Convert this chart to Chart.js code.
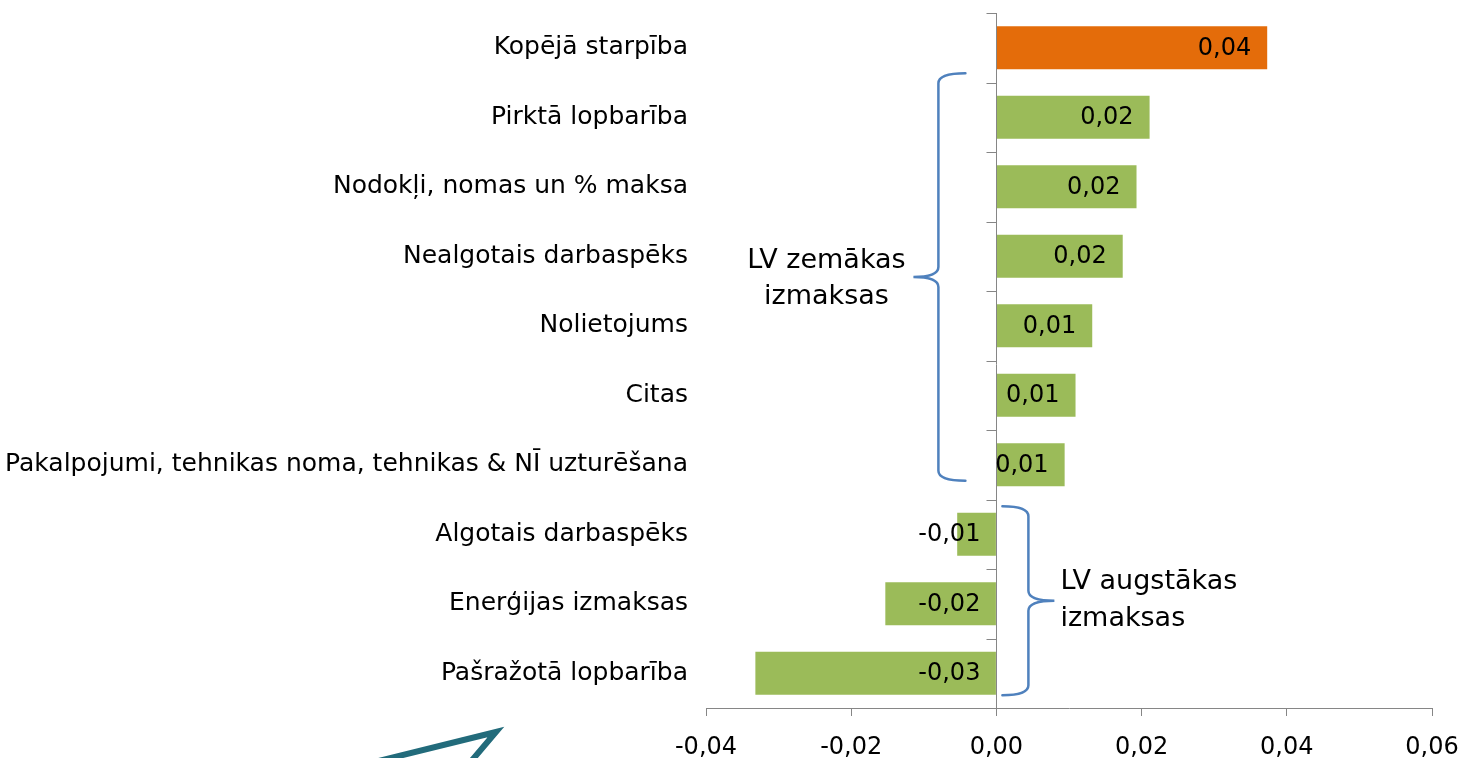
<!DOCTYPE html>
<html>
<head>
<meta charset="utf-8">
<script src="https://cdn.jsdelivr.net/npm/chart.js@4"></script>
<style>
  html,body{margin:0;padding:0;background:#fff;}
  #wrap{width:1462px;height:758px;position:relative;}
</style>
</head>
<body>
<div id="wrap"><canvas id="chart"></canvas></div>
<script>
/* ===== Data ===== */
const categories = [
  'Kopējā starpība',
  'Pirktā lopbarība',
  'Nodokļi, nomas un % maksa',
  'Nealgotais darbaspēks',
  'Nolietojums',
  'Citas',
  'Pakalpojumi, tehnikas noma, tehnikas & NĪ uzturēšana',
  'Algotais darbaspēks',
  'Enerģijas izmaksas',
  'Pašražotā lopbarība'
];
const values = [0.0373, 0.0211, 0.0193, 0.0174, 0.0132, 0.0109, 0.0094, -0.0054, -0.0153, -0.0332];
const barColors = ['#E46C0A','#9BBB59','#9BBB59','#9BBB59','#9BBB59','#9BBB59','#9BBB59','#9BBB59','#9BBB59','#9BBB59'];
const xMin = -0.04, xMax = 0.06, xStep = 0.02;
const braceLow = {from:1, to:6, lines:['LV zemākas','izmaksas']};
const braceHigh = {from:7, to:9, lines:['LV augstākas','izmaksas']};

const FONT = '"DejaVu Sans", sans-serif';
const AXIS = '#868686';
const fmt = v => v.toFixed(2).replace('.', ',');

/* ===== Plugins ===== */
// zero axis line + tick marks between categories
const zeroAxis = {
  id:'zeroAxis',
  afterDatasetsDraw(chart){
    const {ctx, scales:{x,y}} = chart;
    const x0 = Math.round(x.getPixelForValue(0)) + 0.5;
    const half = (y.getPixelForValue(1) - y.getPixelForValue(0)) / 2;
    ctx.save();
    ctx.strokeStyle = AXIS; ctx.lineWidth = 1;
    ctx.beginPath();
    ctx.moveTo(x0, chart.chartArea.top); ctx.lineTo(x0, chart.chartArea.bottom + 8);
    for(let i=0;i<=categories.length;i++){
      const yy = Math.round(y.getPixelForValue(i) - half) + 0.5;
      ctx.moveTo(x0 - 10, yy); ctx.lineTo(x0, yy);
    }
    ctx.stroke();
    ctx.restore();
  }
};

// value labels
const valueLabels = {
  id:'valueLabels',
  afterDatasetsDraw(chart){
    const {ctx, scales:{x}} = chart;
    const x0 = x.getPixelForValue(0);
    const meta = chart.getDatasetMeta(0);
    ctx.save();
    ctx.font = '24px ' + FONT;
    ctx.fillStyle = '#000';
    ctx.textAlign = 'right';
    ctx.textBaseline = 'middle';
    meta.data.forEach((bar,i)=>{
      const v = values[i];
      const px = v >= 0 ? bar.x - 16 : x0 - 16;
      ctx.fillText(fmt(v), px, bar.y + 1);
    });
    ctx.restore();
  }
};

function drawBrace(ctx, xv, xHook, xPoint, top, mid, bot){
  const r = 10;
  ctx.beginPath();
  ctx.moveTo(xHook, top);
  ctx.quadraticCurveTo(xv, top, xv, top + r);
  ctx.lineTo(xv, mid - r);
  ctx.quadraticCurveTo(xv, mid, xPoint, mid);
  ctx.quadraticCurveTo(xv, mid, xv, mid + r);
  ctx.lineTo(xv, bot - r);
  ctx.quadraticCurveTo(xv, bot, xHook, bot);
  ctx.stroke();
}

// braces, notes and the arrow fragment
const notes = {
  id:'notes',
  afterDraw(chart){
    const {ctx, scales:{x,y}} = chart;
    const x0 = x.getPixelForValue(0);
    ctx.save();
    ctx.strokeStyle = '#4F81BD'; ctx.lineWidth = 2.5; ctx.lineCap = 'round';
    ctx.font = '27px ' + FONT; ctx.fillStyle = '#000'; ctx.textBaseline = 'middle';

    // lower costs brace (left of zero)
    let top = y.getPixelForValue(braceLow.from) - 44;
    let bot = y.getPixelForValue(braceLow.to) + 16;
    let mid = (top + bot) / 2;
    drawBrace(ctx, x0 - 58, x0 - 31, x0 - 83, top, mid, bot);
    ctx.textAlign = 'center';
    ctx.fillText(braceLow.lines[0], x0 - 170, mid - 16);
    ctx.fillText(braceLow.lines[1], x0 - 170, mid + 20);

    // higher costs brace (right of zero)
    top = y.getPixelForValue(braceHigh.from) - 28;
    bot = y.getPixelForValue(braceHigh.to) + 22;
    mid = (top + bot) / 2;
    drawBrace(ctx, x0 + 32, x0 + 6, x0 + 58, top, mid, bot);
    ctx.textAlign = 'left';
    ctx.fillText(braceHigh.lines[0], x0 + 64, mid - 19);
    ctx.fillText(braceHigh.lines[1], x0 + 64, mid + 18);

    // teal arrow fragment at bottom left
    ctx.strokeStyle = '#226B7B'; ctx.lineWidth = 6; ctx.lineJoin = 'miter'; ctx.lineCap = 'butt';
    ctx.beginPath();
    ctx.moveTo(330, 773);
    ctx.lineTo(496, 732);
    ctx.lineTo(462, 772);
    ctx.stroke();
    ctx.restore();
  }
};

/* ===== Chart ===== */
new Chart(document.getElementById('chart'), {
  type:'bar',
  data:{
    labels: categories,
    datasets:[{
      data: values,
      backgroundColor: barColors,
      borderWidth: 0,
      categoryPercentage: 0.62,
      barPercentage: 1
    }]
  },
  options:{
    indexAxis:'y',
    responsive:true,
    maintainAspectRatio:false,
    animation:false,
    layout:{ padding:{ top:13, right:30, left:0, bottom:0 } },
    plugins:{ legend:{display:false}, tooltip:{enabled:false} },
    scales:{
      x:{
        min:xMin, max:xMax,
        ticks:{ stepSize:xStep, color:'#000', padding:17,
          font:{ family:FONT, size:24 }, callback:v=>fmt(v) },
        grid:{ drawOnChartArea:false, tickLength:8, tickColor:AXIS },
        border:{ color:AXIS, width:1 },
        afterFit: s => { s.height = 50; s.paddingLeft = 0; s.paddingRight = 0; }
      },
      y:{
        ticks:{ color:'#000', padding:18, font:{ family:FONT, size:25 } },
        grid:{ display:false, drawTicks:false },
        border:{ display:false },
        afterFit: s => { s.width = 706; s.paddingTop = 0; s.paddingBottom = 0; }
      }
    }
  },
  plugins:[zeroAxis, valueLabels, notes]
});
</script>
</body>
</html>
